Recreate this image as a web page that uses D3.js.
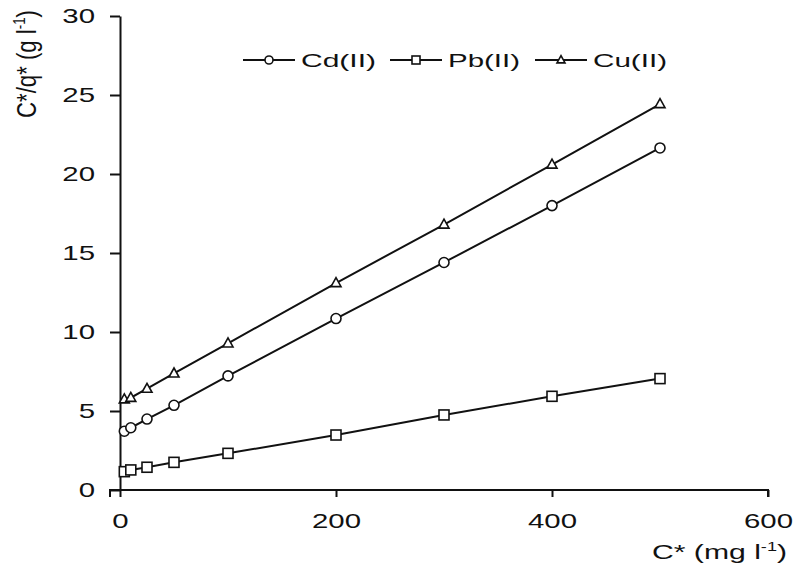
<!DOCTYPE html>
<html>
<head>
<meta charset="utf-8">
<script src="https://cdn.jsdelivr.net/npm/d3@7"></script>
<style>
  body { margin: 0; background: #fff; }
  text { font-family: "Liberation Sans", Arial, sans-serif; fill: #111; }
</style>
</head>
<body>
<div id="chart"></div>
<script>
// concentrations (mg/l) and C*/q* values (g/l)
const conc = [4, 10, 25, 50, 100, 200, 300, 400, 500];
const cd = [3.72, 3.94, 4.49, 5.36, 7.22, 10.85, 14.4, 18.0, 21.65];
const pb = [1.16, 1.27, 1.44, 1.75, 2.32, 3.48, 4.75, 5.93, 7.05];
const cu = [5.74, 5.84, 6.41, 7.38, 9.28, 13.1, 16.8, 20.6, 24.43];
const seriesNames = ["Cd(II)", "Pb(II)", "Cu(II)"];
const xTicks = [0, 200, 400, 600];
const yTicks = [0, 5, 10, 15, 20, 25, 30];

const W = 794, H = 577;
const margin = {left: 120, top: 16, right: 26, bottom: 87};
const sx = 1.4; // the scan is stretched sideways

const svg = d3.select("#chart").append("svg")
  .attr("width", W).attr("height", H);

const x = d3.scaleLinear().domain([0, 600]).range([margin.left, W - margin.right]);
const y = d3.scaleLinear().domain([0, 30]).range([H - margin.bottom, margin.top]);

// axes
const xAxis = svg.append("g")
  .attr("transform", `translate(0,${y(0)})`)
  .call(d3.axisBottom(x).tickValues(xTicks).tickSizeInner(7).tickSizeOuter(7).tickPadding(16));
xAxis.select(".domain").attr("d", `M${x(0) - 10},7V0H${x(600)}V7`);
xAxis.selectAll("text")
  .attr("font-size", 21)
  .attr("transform", `scale(${sx},1)`);

const yAxis = svg.append("g")
  .attr("transform", `translate(${x(0)},0)`)
  .call(d3.axisLeft(y).tickValues(yTicks).tickSizeInner(10).tickSizeOuter(0).tickPadding(8));
yAxis.selectAll("text")
  .attr("font-size", 21)
  .attr("x", -25 / sx)
  .attr("transform", `scale(${sx},1)`);

svg.selectAll(".domain, .tick line").attr("stroke", "#111").attr("stroke-width", 2);
svg.selectAll(".tick text").attr("fill", "#111").attr("font-family", '"Liberation Sans", Arial, sans-serif');

// axis titles
const yTitle = svg.append("text")
  .attr("transform", `translate(36,118) scale(${sx},1) rotate(-90)`)
  .attr("font-size", 20)
  .attr("textLength", 108)
  .attr("lengthAdjust", "spacingAndGlyphs");
yTitle.append("tspan").text("C*/q* (g l");
yTitle.append("tspan").attr("font-size", 12).attr("dy", -8).text("-1");
yTitle.append("tspan").attr("dy", 8).text(")");

const xTitle = svg.append("text")
  .attr("x", 652).attr("y", 559)
  .attr("font-size", 20)
  .attr("textLength", 135)
  .attr("lengthAdjust", "spacingAndGlyphs");
xTitle.append("tspan").text("C* (mg l");
xTitle.append("tspan").attr("font-size", 12).attr("dy", -8).text("-1");
xTitle.append("tspan").attr("dy", 8).text(")");

// series
const series = [
  {name: seriesNames[0], values: cd, shape: "circle"},
  {name: seriesNames[1], values: pb, shape: "square"},
  {name: seriesNames[2], values: cu, shape: "triangle"}
];

const line = d3.line().x(d => x(d[0])).y(d => y(d[1]));

function marker(sel, shape, s) {
  if (shape === "circle") {
    sel.append("circle").attr("r", s * 0.5);
  } else if (shape === "square") {
    sel.append("rect").attr("x", -s / 2).attr("y", -s / 2).attr("width", s).attr("height", s);
  } else {
    const h = s * 0.9;
    sel.append("path").attr("d", `M0,${-h * 0.6}L${s / 2},${h * 0.4}L${-s / 2},${h * 0.4}Z`);
  }
  sel.selectAll("circle, rect, path")
    .attr("fill", "#fff").attr("stroke", "#111").attr("stroke-width", 1.6);
}

series.forEach(s => {
  const pts = conc.map((c, i) => [c, s.values[i]]);
  svg.append("path")
    .datum(pts)
    .attr("fill", "none")
    .attr("stroke", "#111")
    .attr("stroke-width", 2)
    .attr("d", line);
  svg.append("g").selectAll("g")
    .data(pts)
    .enter().append("g")
    .attr("transform", d => `translate(${x(d[0])},${y(d[1])})`)
    .each(function() { marker(d3.select(this), s.shape, 10); });
});

// legend
const legendX = [243, 390, 535];
const legendTextW = [75, 72, 74];
const legend = svg.append("g").attr("transform", "translate(0,60)");
series.forEach((s, i) => {
  const g = legend.append("g").attr("transform", `translate(${legendX[i]},0)`);
  g.append("line").attr("x1", 0).attr("x2", 52)
    .attr("stroke", "#111").attr("stroke-width", 2);
  const m = g.append("g").attr("transform", "translate(26,0)");
  marker(m, s.shape, 8);
  g.append("text")
    .attr("x", 58).attr("y", 7)
    .attr("font-size", 19)
    .attr("textLength", legendTextW[i])
    .attr("lengthAdjust", "spacingAndGlyphs")
    .text(s.name);
});
</script>
</body>
</html>
